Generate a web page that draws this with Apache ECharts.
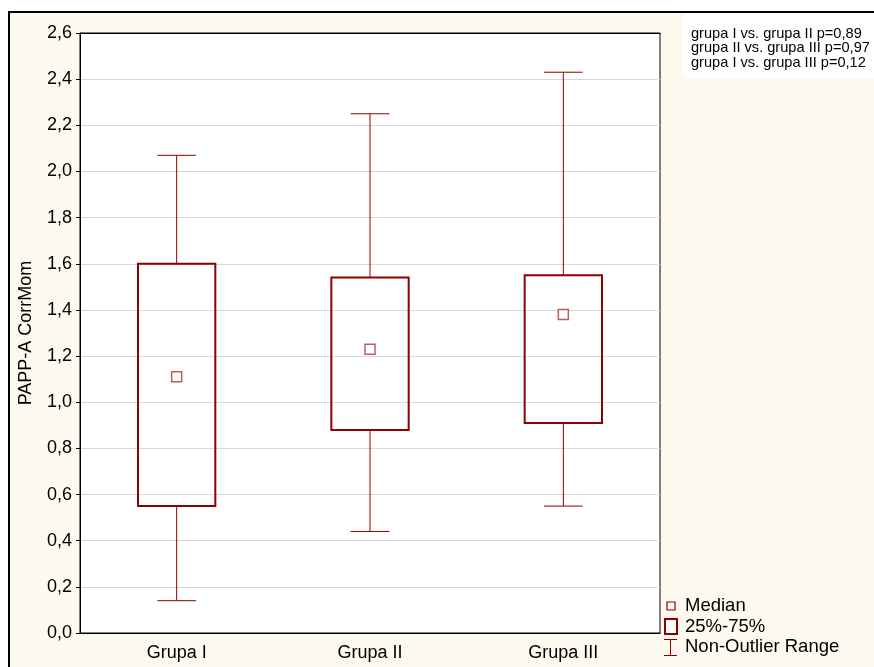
<!DOCTYPE html>
<html>
<head>
<meta charset="utf-8">
<script src="https://cdn.jsdelivr.net/npm/echarts@6/dist/echarts.min.js"></script>
<style>
html,body{margin:0;padding:0;background:#fff;}
#chart{width:874px;height:667px;}
</style>
</head>
<body>
<div id="chart"></div>
<script>
// Groups and their summary statistics (PAPP-A CorrMom)
const categories = ['Grupa I', 'Grupa II', 'Grupa III'];
const whiskerLow  = [0.14, 0.44, 0.55];
const quartile1   = [0.55, 0.88, 0.91];
const medians     = [1.11, 1.23, 1.38];
const quartile3   = [1.60, 1.54, 1.55];
const whiskerHigh = [2.07, 2.25, 2.43];
const yTicks = { min: 0, max: 2.6, step: 0.2 };
const pValues = [
  'grupa I vs. grupa II p=0,89',
  'grupa II vs. grupa III p=0,97',
  'grupa I vs. grupa III p=0,12'
];
const legendLabels = ['Median', '25%-75%', 'Non-Outlier Range'];

const RED = '#8b0000';
const FONT = '"Liberation Sans", Arial, sans-serif';

const boxData = categories.map((c, i) => [i, whiskerLow[i], quartile1[i], medians[i], quartile3[i], whiskerHigh[i]]);

function renderBox(params, api) {
  const i = api.value(0);
  const band = api.size([1, 0])[0];
  const bw = band * 0.4;
  const cw = band * 0.2;
  const pLow = api.coord([i, api.value(1)]);
  const pQ1 = api.coord([i, api.value(2)]);
  const pQ3 = api.coord([i, api.value(4)]);
  const pHigh = api.coord([i, api.value(5)]);
  const x = pQ1[0];
  const thin = { stroke: RED, lineWidth: 1 };
  return {
    type: 'group',
    children: [
      { type: 'line', shape: { x1: x, y1: pQ3[1], x2: x, y2: pHigh[1] }, style: thin },
      { type: 'line', shape: { x1: x - cw / 2, y1: pHigh[1], x2: x + cw / 2, y2: pHigh[1] }, style: thin },
      { type: 'line', shape: { x1: x, y1: pQ1[1], x2: x, y2: pLow[1] }, style: thin },
      { type: 'line', shape: { x1: x - cw / 2, y1: pLow[1], x2: x + cw / 2, y2: pLow[1] }, style: thin },
      { type: 'rect', shape: { x: x - bw / 2, y: pQ3[1], width: bw, height: pQ1[1] - pQ3[1] },
        style: { fill: 'rgba(0,0,0,0)', stroke: RED, lineWidth: 2 } }
    ]
  };
}

const chart = echarts.init(document.getElementById('chart'), null, { renderer: 'canvas' });

const legendX = 664, legendY = 606;
chart.setOption({
  backgroundColor: '#ffffff',
  animation: false,
  textStyle: { fontFamily: FONT },
  graphic: [
    { type: 'rect', z: -10, silent: true,
      shape: { x: 9, y: 12, width: 880, height: 670 },
      style: { fill: '#fdf9ef', stroke: '#000', lineWidth: 2 } },
    { type: 'rect', z: -5, silent: true,
      shape: { x: 683, y: 13, width: 191, height: 65 },
      style: { fill: '#ffffff' } },
    { type: 'text', left: 691, top: 26, silent: true,
      style: { text: pValues.join('\n'), fill: '#000', font: '14.6px ' + FONT, lineHeight: 14.5 } },
    // legend: median marker
    { type: 'rect', silent: true, shape: { x: legendX + 3, y: legendY - 4, width: 8, height: 8 },
      style: { fill: '#fff', stroke: RED, lineWidth: 1.2 } },
    { type: 'text', left: legendX + 21, top: legendY - 10, silent: true,
      style: { text: legendLabels[0], fill: '#000', font: '18.5px ' + FONT } },
    // legend: box
    { type: 'rect', silent: true, shape: { x: legendX + 1, y: legendY + 13, width: 12, height: 15 },
      style: { fill: '#fff', stroke: RED, lineWidth: 2 } },
    { type: 'text', left: legendX + 21, top: legendY + 11, silent: true,
      style: { text: legendLabels[1], fill: '#000', font: '18.5px ' + FONT } },
    // legend: whisker range
    { type: 'group', silent: true, children: [
      { type: 'line', shape: { x1: legendX, y1: legendY + 33.5, x2: legendX + 13, y2: legendY + 33.5 }, style: { stroke: RED, lineWidth: 1 } },
      { type: 'line', shape: { x1: legendX + 6.5, y1: legendY + 33.5, x2: legendX + 6.5, y2: legendY + 49.5 }, style: { stroke: RED, lineWidth: 1 } },
      { type: 'line', shape: { x1: legendX, y1: legendY + 49.5, x2: legendX + 13, y2: legendY + 49.5 }, style: { stroke: RED, lineWidth: 1 } }
    ] },
    { type: 'text', left: legendX + 21, top: legendY + 31, silent: true,
      style: { text: legendLabels[2], fill: '#000', font: '18.5px ' + FONT } }
  ],
  grid: {
    left: 80, top: 33, width: 580, height: 600,
    show: true, backgroundColor: '#ffffff', borderColor: '#000', borderWidth: 1
  },
  xAxis: [
    {
      type: 'category', data: categories, position: 'bottom',
      axisLine: { lineStyle: { color: '#000', width: 1 } },
      axisTick: { alignWithLabel: true, inside: true, length: 3, lineStyle: { color: '#000' } },
      axisLabel: { color: '#000', fontSize: 18, fontFamily: FONT, margin: 11 },
      splitLine: { show: false }
    },
    {
      type: 'category', data: categories, position: 'top',
      axisLine: { lineStyle: { color: '#000', width: 1 } },
      axisTick: { alignWithLabel: true, inside: true, length: 3, lineStyle: { color: '#000' } },
      axisLabel: { show: false },
      splitLine: { show: false }
    }
  ],
  yAxis: {
    type: 'value', min: yTicks.min, max: yTicks.max, interval: yTicks.step,
    name: 'PAPP-A CorrMom', nameLocation: 'middle', nameGap: 45, nameRotate: 90,
    nameTextStyle: { color: '#000', fontSize: 18, fontFamily: FONT },
    axisLine: { show: true, lineStyle: { color: '#000', width: 1 } },
    axisTick: { show: true, length: 4, lineStyle: { color: '#000' } },
    axisLabel: {
      color: '#000', fontSize: 18, fontFamily: FONT, margin: 8,
      formatter: v => v.toFixed(1).replace('.', ',')
    },
    splitLine: { show: true, lineStyle: { color: '#d9d9d9', width: 1 } }
  },
  series: [
    {
      name: 'Box', type: 'custom', xAxisIndex: 0,
      encode: { x: 0, y: [1, 2, 3, 4, 5] },
      renderItem: renderBox, data: boxData, z: 3
    },
    {
      name: 'Median', type: 'scatter', xAxisIndex: 0,
      data: medians.map((m, i) => [i, m]),
      symbol: 'rect', symbolSize: 10,
      itemStyle: { color: '#fff', borderColor: '#a03a3a', borderWidth: 1.5 },
      z: 4
    }
  ]
});
</script>
</body>
</html>
